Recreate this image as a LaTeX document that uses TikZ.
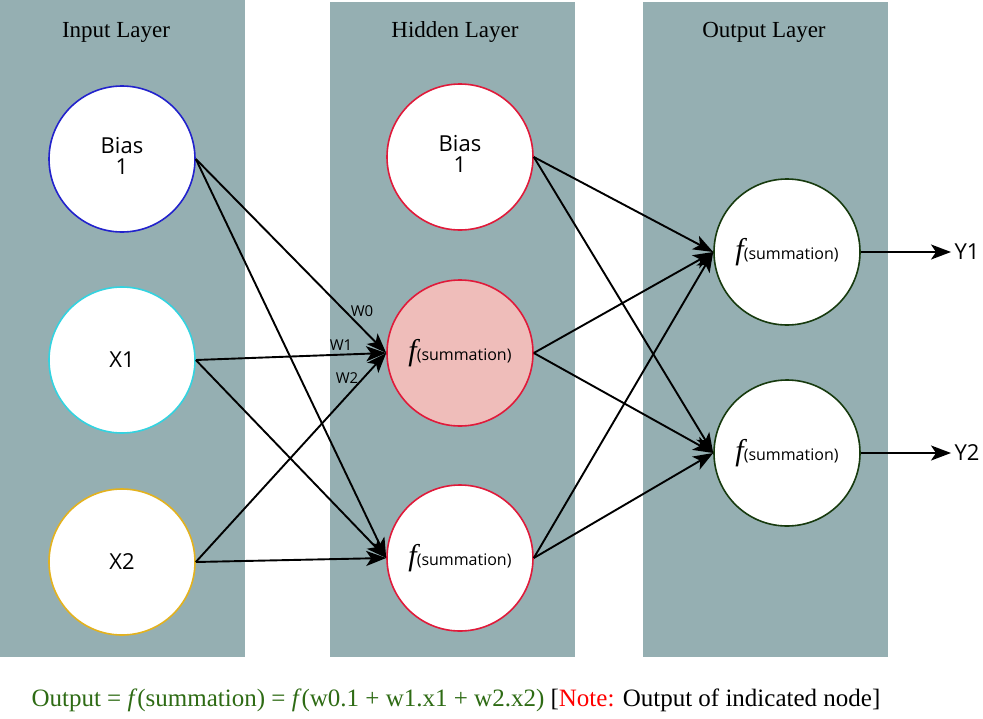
\documentclass[tikz,border=0pt]{standalone}
\usepackage{fontspec}
\setmainfont{Liberation Serif}
\newfontfamily\nodefont{Open Sans}
\usetikzlibrary{arrows.meta}

\definecolor{layergray}{HTML}{95AFB2}
\definecolor{biasblue}{HTML}{2222CC}
\definecolor{xonecyan}{HTML}{33D3E0}
\definecolor{xtwogold}{HTML}{E3B21E}
\definecolor{hiddenred}{HTML}{E01A3A}
\definecolor{activepink}{HTML}{EFBDBA}
\definecolor{outgreen}{HTML}{173A0E}
\definecolor{eqgreen}{HTML}{2E6B14}

\newcommand{\fsum}{{\rmfamily\itshape\fontsize{30}{30}\selectfont f}{\fontsize{16}{16}\selectfont(summation)}}
\newcommand{\biastext}{\raisebox{8pt}{\begin{tabular}{@{}c@{}}Bias\\1\end{tabular}}}

\tikzset{
  neuron/.style={circle, draw, line width=1.6pt, fill=white, minimum size=146pt,
    inner sep=0pt, align=center, font=\nodefont\fontsize{22}{20}\selectfont},
  link/.style={-{Stealth[length=20pt,width=15pt,inset=5pt]}, line width=1.9pt},
  layertitle/.style={font=\fontsize{23}{23}\selectfont},
  weight/.style={font=\nodefont\fontsize{15}{15}\selectfont}
}

\begin{document}
\begin{tikzpicture}[x=1pt, y=-1pt]
          \useasboundingbox (0,0) rectangle (983,718);

          % layers
          \fill[layergray] (0,0) rectangle (245,657);
          \fill[layergray] (330,2) rectangle (575,657);
          \fill[layergray] (643,2) rectangle (888,657);

          \node[layertitle] (tin) at (116,32) {Input Layer};
          \node[layertitle] (thid) at (455,32) {Hidden Layer};
          \node[layertitle] (tout) at (764,32) {Output Layer};

          % input nodes
          \node[neuron, draw=biasblue] (ib) at (122,159) {\biastext};
          \node[neuron, draw=xonecyan] (x1) at (122,360) {X1};
          \node[neuron, draw=xtwogold] (x2) at (122,562) {X2};

          % hidden nodes
          \node[neuron, draw=hiddenred] (hb) at (460,157) {\biastext};
          \node[neuron, draw=hiddenred, fill=activepink] (h1) at (460,353) {\fsum};
          \node[neuron, draw=hiddenred] (h2) at (460,558) {\fsum};

          % output nodes
          \node[neuron, draw=outgreen] (o1) at (787,252) {\fsum};
          \node[neuron, draw=outgreen] (o2) at (787,453) {\fsum};

          \node[font=\nodefont\fontsize{22}{22}\selectfont] (y1) at (967,252) {Y1};
          \node[font=\nodefont\fontsize{22}{22}\selectfont] (y2) at (967,453) {Y2};

          % input -> hidden
          \draw[link] (ib.east) -- (h1.west);
          \draw[link] (ib.east) -- (h2.west);
          \draw[link] (x1.east) -- (h1.west);
          \draw[link] (x1.east) -- (h2.west);
          \draw[link] (x2.east) -- (h1.west);
          \draw[link] (x2.east) -- (h2.west);

          % hidden -> output
          \draw[link] (hb.east) -- (o1.west);
          \draw[link] (hb.east) -- (o2.west);
          \draw[link] (h1.east) -- (o1.west);
          \draw[link] (h1.east) -- (o2.west);
          \draw[link] (h2.east) -- (o1.west);
          \draw[link] (h2.east) -- (o2.west);

          % outputs
          \draw[link] (o1.east) -- (y1.west);
          \draw[link] (o2.east) -- (y2.west);

          \node[weight] (w0) at (362,311) {W0};
          \node[weight] (w1) at (341,345) {W1};
          \node[weight] (w2) at (347,378) {W2};

          \node[font=\fontsize{25}{25}\selectfont, anchor=west] (eq) at (28,700)
          {\textcolor{eqgreen}{Output = \textit{f}(summation) = \textit{f}(w0.1 + w1.x1 + w2.x2)}
           [\textcolor{red}{Note:} Output of indicated node]};

\end{tikzpicture}
\end{document}
